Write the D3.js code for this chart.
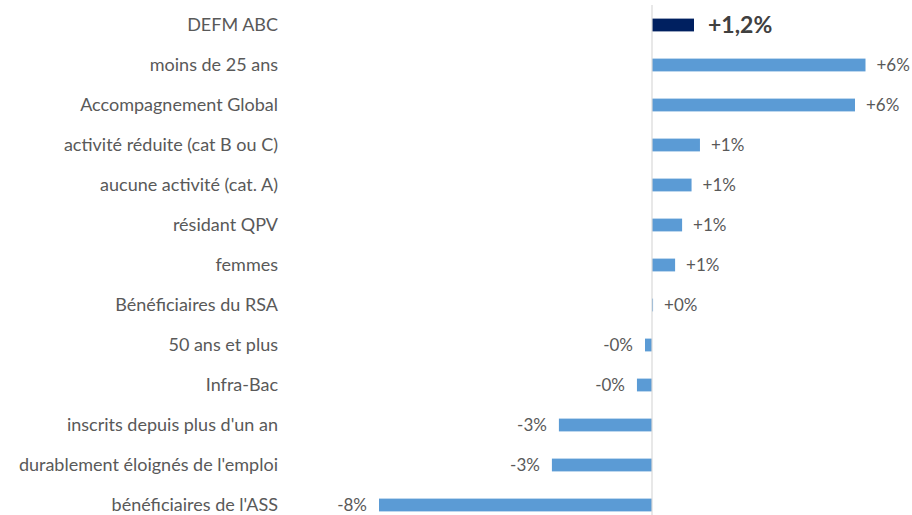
<!DOCTYPE html>
<html>
<head>
<meta charset="utf-8">
<script src="https://cdn.jsdelivr.net/npm/d3@7"></script>
<style>
  body { margin: 0; background: #fff; }
  svg { display: block; font-family: Lato, "Open Sans", sans-serif; }
</style>
</head>
<body>
<div id="chart"></div>
<script>
// Data
const categories = [
  "DEFM ABC",
  "moins de 25 ans",
  "Accompagnement Global",
  "activité réduite (cat B ou C)",
  "aucune activité (cat. A)",
  "résidant QPV",
  "femmes",
  "Bénéficiaires du RSA",
  "50 ans et plus",
  "Infra-Bac",
  "inscrits depuis plus d'un an",
  "durablement éloignés de l'emploi",
  "bénéficiaires de l'ASS"
];
const values = [1.2, 6.1, 5.8, 1.37, 1.13, 0.86, 0.66, 0.03, -0.2, -0.43, -2.66, -2.86, -7.8];
const valueLabels = ["+1,2%", "+6%", "+6%", "+1%", "+1%", "+1%", "+1%", "+0%", "-0%", "-0%", "-3%", "-3%", "-8%"];

const config = {
  width: 912,
  height: 515,
  totalColor: "#002060",
  barColor: "#5B9BD5",
  textColor: "#595959"
};

const svg = d3.select("#chart")
  .append("svg")
  .attr("width", config.width)
  .attr("height", config.height);

// Scales
const x = d3.scaleLinear()
  .domain([-8, 6])
  .range([652 - 8 * 35, 652 + 6 * 35]);

const y = d3.scaleBand()
  .domain(categories)
  .range([5, 525])
  .paddingInner(0.68)
  .paddingOuter(0.34);

const rows = categories.map((c, i) => ({ cat: c, value: values[i], label: valueLabels[i], i }));

// Bars
svg.selectAll(".bar")
  .data(rows)
  .enter()
  .append("rect")
  .attr("class", "bar")
  .attr("x", d => x(Math.min(0, d.value)))
  .attr("y", d => y(d.cat))
  .attr("width", d => Math.max(1, Math.abs(x(d.value) - x(0))))
  .attr("height", y.bandwidth())
  .attr("fill", d => d.i === 0 ? config.totalColor : config.barColor);

// Zero line
svg.append("line")
  .attr("x1", x(0)).attr("x2", x(0))
  .attr("y1", 5).attr("y2", config.height)
  .attr("stroke", "#D9D9D9")
  .attr("stroke-width", 1.2);

// Category labels
svg.selectAll(".cat")
  .data(rows)
  .enter()
  .append("text")
  .attr("class", "cat")
  .attr("x", 278)
  .attr("y", d => y(d.cat) + y.bandwidth() / 2)
  .attr("dy", "0.35em")
  .attr("text-anchor", "end")
  .attr("font-size", 18)
  .attr("fill", config.textColor)
  .text(d => d.cat);

// Value labels
svg.selectAll(".val")
  .data(rows)
  .enter()
  .append("text")
  .attr("class", "val")
  .attr("x", d => d.value >= 0 ? x(d.value) + (d.i === 0 ? 14 : 11) : x(d.value) - 12)
  .attr("y", d => y(d.cat) + y.bandwidth() / 2)
  .attr("dy", "0.35em")
  .attr("text-anchor", d => d.value >= 0 ? "start" : "end")
  .attr("font-size", d => d.i === 0 ? 23 : 17)
  .attr("font-weight", d => d.i === 0 ? "bold" : "normal")
  .attr("fill", d => d.i === 0 ? "#404040" : config.textColor)
  .text(d => d.label);
</script>
</body>
</html>
